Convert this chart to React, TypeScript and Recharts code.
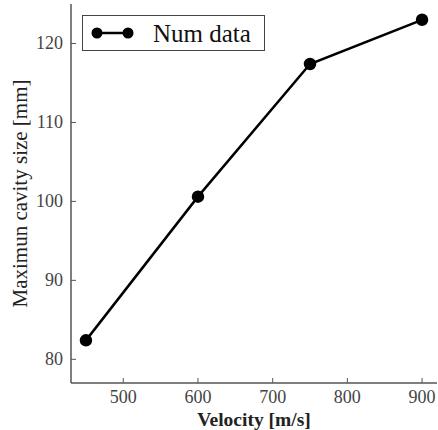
import { LineChart, Line, XAxis, YAxis, Legend } from 'recharts'

const velocities = [450, 600, 750, 900]
const cavitySizes = [82.4, 100.6, 117.4, 123.0]
const xTicks = [500, 600, 700, 800, 900]
const yTicks = [80, 90, 100, 110, 120]
const seriesName = 'Num data'

const data = velocities.map((v, i) => ({ v, size: cavitySizes[i] }))

const FONT = '"Liberation Serif", "DejaVu Serif", serif'
const FRAME = '#555'
const TICK_LEN = 5

function BottomTick({ x, y, payload }: any) {
  return (
    <g>
      <line x1={x} x2={x} y1={y - 9} y2={y - 9 - TICK_LEN} stroke={FRAME} strokeWidth={1} />
      <text x={x} y={y} dy={11} textAnchor="middle" fontFamily={FONT} fontSize={18} fill="#444">
        {payload.value}
      </text>
    </g>
  )
}

function LeftTick({ x, y, payload }: any) {
  return (
    <g>
      <line x1={x + 8} x2={x + 8 + TICK_LEN} y1={y} y2={y} stroke={FRAME} strokeWidth={1} />
      <text x={x} y={y} dy={6} textAnchor="end" fontFamily={FONT} fontSize={18} fill="#444">
        {payload.value}
      </text>
    </g>
  )
}

function TopTick({ x, y }: any) {
  return <line x1={x} x2={x} y1={y} y2={y + TICK_LEN} stroke={FRAME} strokeWidth={1} />
}

function RightTick({ x, y }: any) {
  return <line x1={x} x2={x - TICK_LEN} y1={y} y2={y} stroke={FRAME} strokeWidth={1} />
}

function LegendBox() {
  return (
    <div style={{ border: '1.5px solid #444', background: '#fff', display: 'flex', alignItems: 'center', height: 36, width: 183, boxSizing: 'border-box', padding: '0 0 0 7px' }}>
      <svg width={44} height={20}>
        <line x1={7} x2={38} y1={10} y2={10} stroke="#000" strokeWidth={2.5} />
        <circle cx={7} cy={10} r={5.5} fill="#000" />
        <circle cx={38} cy={10} r={5.5} fill="#000" />
      </svg>
      <span style={{ fontFamily: FONT, fontSize: 25, marginLeft: 19, color: '#111', lineHeight: 1 }}>{seriesName}</span>
    </div>
  )
}

export default function App() {
  return (
    <div style={{ position: 'absolute', left: 0, top: 0, width: 438, height: 430, background: '#fff' }}>
      <LineChart width={438} height={430} data={data} margin={{ top: 4, right: 1, left: 0, bottom: 0 }}>
        <XAxis
          dataKey="v"
          type="number"
          domain={[430, 920]}
          ticks={xTicks}
          height={47}
          tickSize={0}
          tickMargin={9}
          tickLine={false}
          tick={<BottomTick />}
          axisLine={{ stroke: FRAME, strokeWidth: 1.5 }}
          label={{ value: 'Velocity [m/s]', position: 'insideBottom', offset: 4, style: { fontFamily: FONT, fontSize: 19.5, fontWeight: 'bold', fill: '#222' } }}
        />
        <XAxis
          xAxisId="top"
          dataKey="v"
          type="number"
          orientation="top"
          domain={[430, 920]}
          ticks={xTicks}
          height={0}
          tickSize={0}
          tickMargin={0}
          tickLine={false}
          tick={<TopTick />}
          axisLine={{ stroke: FRAME, strokeWidth: 1.5 }}
        />
        <YAxis
          type="number"
          domain={[77, 125]}
          ticks={yTicks}
          width={71}
          tickSize={0}
          tickMargin={8}
          tickLine={false}
          tick={<LeftTick />}
          axisLine={{ stroke: FRAME, strokeWidth: 1.5 }}
          label={{ value: 'Maximun cavity size [mm]', angle: -90, position: 'insideLeft', offset: 20, style: { textAnchor: 'middle', fontFamily: FONT, fontSize: 21, fill: '#222' } }}
        />
        <YAxis
          yAxisId="right"
          orientation="right"
          type="number"
          domain={[77, 125]}
          ticks={yTicks}
          width={0}
          tickSize={0}
          tickMargin={0}
          tickLine={false}
          tick={<RightTick />}
          axisLine={{ stroke: FRAME, strokeWidth: 1.5 }}
        />
        <Legend
          content={<LegendBox />}
          wrapperStyle={{ left: 82, top: 15, width: 183, height: 36 }}
          layout="vertical"
          verticalAlign="middle"
          align="center"
        />
        <Line
          dataKey="size"
          name={seriesName}
          stroke="#000"
          strokeWidth={2.5}
          dot={{ r: 5, fill: '#000', stroke: '#000' }}
          isAnimationActive={false}
        />
      </LineChart>
    </div>
  )
}
